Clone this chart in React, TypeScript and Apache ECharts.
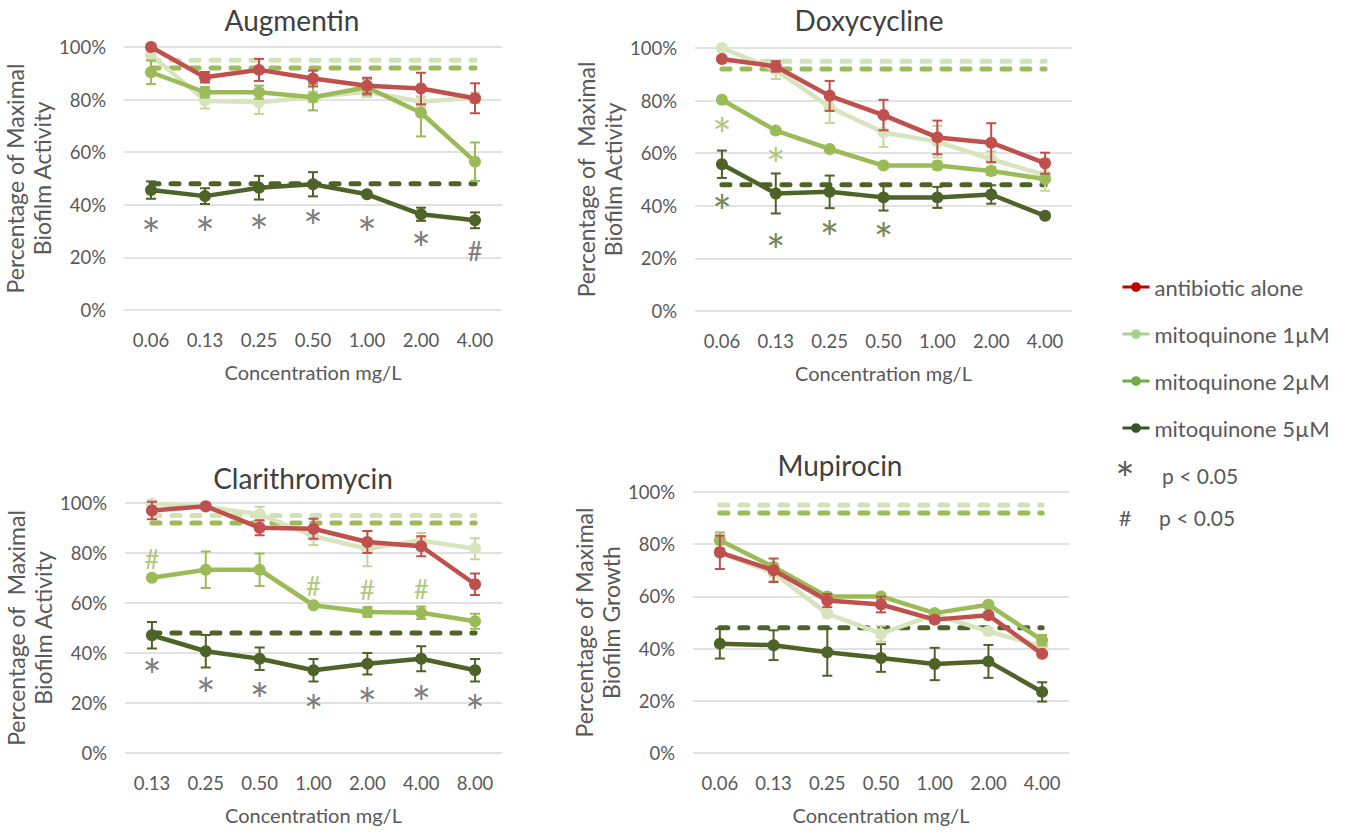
import React, { useEffect, useRef } from "react";
import * as echarts from "echarts";

const FONT = 'Lato, "Noto Sans", sans-serif';
const TXT = "#595959";

const seriesNames = ["antibiotic alone", "mitoquinone 1µM", "mitoquinone 2µM", "mitoquinone 5µM"];
const lineColors = ["#C0504D", "#D7E4BD", "#9BBB59", "#4F6228"];
const errColors = ["#C0504D", "#C4D79B", "#9BBB59", "#4F6228"];
const legendColors = ["#C00000", "#A9D18E", "#70AD47", "#375623"];
const refLevels = [95, 92, 48];
const refColors = ["#D3E2B6", "#9BBB59", "#4F6228"];

// ---------- Augmentin ----------
const augCats = ["0.06", "0.13", "0.25", "0.50", "1.00", "2.00", "4.00"];
const augAlone = [100, 88.5, 91.3, 88, 85.3, 84.2, 80.5];
const augAloneErr = [1, 2, 4.2, 3, 3, 6, 5.7];
const augM1 = [97, 79.6, 79, 81, 83, 79.2, 80.7];
const augM1Err = [2, 3, 4.5, 2, 2, 2, 2];
const augM2 = [90.4, 82.8, 82.8, 80.9, 84.7, 75, 56.4];
const augM2Err = [4.5, 2, 2.5, 5, 3, 9, 7.3];
const augM5 = [45.6, 43.3, 46.5, 47.8, 44, 36.4, 34.1];
const augM5Err = [3.3, 3, 4.5, 4.6, 1, 2.5, 3];
const augNoteCat = [0, 1, 2, 3, 4, 5, 6];
const augNoteY = [32.7, 33.2, 34, 36, 33.2, 27.6, 22.6];
const augNoteText = ["*", "*", "*", "*", "*", "*", "#"];
const augNoteTone = ["gray", "gray", "gray", "gray", "gray", "gray", "gray"];

// ---------- Doxycycline ----------
const doxCats = ["0.06", "0.13", "0.25", "0.50", "1.00", "2.00", "4.00"];
const doxAlone = [95.8, 93, 81.8, 74.5, 66, 64, 56.2];
const doxAloneErr = [1, 2, 5.7, 5.8, 6.4, 7.4, 4];
const doxM1 = [100, 91.7, 77.5, 67.9, 64.4, 57.7, 51.7];
const doxM1Err = [1, 3.5, 6, 5.5, 6, 3, 6];
const doxM2 = [80.3, 68.6, 61.6, 55.3, 55.3, 53.2, 50.2];
const doxM2Err = [1, 1, 1, 1, 1.5, 1.5, 1];
const doxM5 = [55.8, 44.7, 45.3, 43.2, 43.2, 44.3, 36.2];
const doxM5Err = [5.2, 7.6, 6.2, 5, 4, 3.5, 1];
const doxNoteCat = [0, 1, 0, 1, 2, 3];
const doxNoteY = [71.4, 60, 42.2, 27.3, 32, 31.3];
const doxNoteText = ["*", "*", "*", "*", "*", "*"];
const doxNoteTone = ["mid", "mid", "dark", "dark", "dark", "dark"];

// ---------- Clarithromycin ----------
const claCats = ["0.13", "0.25", "0.50", "1.00", "2.00", "4.00", "8.00"];
const claAlone = [97, 98.7, 90.1, 89.7, 84.4, 82.7, 67.5];
const claAloneErr = [3.5, 1, 3, 4, 4.4, 4, 4.3];
const claM1 = [99.7, 98.4, 95.5, 86.7, 81.7, 85, 81.7];
const claM1Err = [1, 1, 3, 3.5, 7, 3, 4.2];
const claM2 = [70.1, 73.3, 73.3, 59.1, 56.4, 56.1, 52.7];
const claM2Err = [1, 7.3, 6.5, 1, 2, 2.5, 3];
const claM5 = [47.1, 40.7, 37.7, 33.1, 35.7, 37.7, 33.1];
const claM5Err = [5.3, 6.5, 4.5, 4.5, 4.3, 5, 4.5];
const claNoteCat = [0, 3, 4, 5, 0, 1, 2, 3, 4, 5, 6];
const claNoteY = [77.7, 66.8, 65.1, 65.7, 35.5, 27.7, 25.7, 21, 23.7, 24.8, 21];
const claNoteText = ["#", "#", "#", "#", "*", "*", "*", "*", "*", "*", "*"];
const claNoteTone = ["mid", "mid", "mid", "mid", "gray", "gray", "gray", "gray", "gray", "gray", "gray"];

// ---------- Mupirocin ----------
const mupCats = ["0.06", "0.13", "0.25", "0.50", "1.00", "2.00", "4.00"];
const mupAlone = [76.9, 70, 58.4, 56.9, 51.1, 52.8, 38];
const mupAloneErr = [6.4, 4.5, 2.5, 3, 1, 1, 1];
const mupM1 = [76.6, 69, 53.4, 45.7, 53, 46.6, 40.9];
const mupM1Err = [1, 3, 1, 3, 1, 1, 1];
const mupM2 = [81.5, 71.3, 60, 60, 53.6, 56.8, 43.2];
const mupM2Err = [3, 1, 1, 1, 1, 1, 2];
const mupM5 = [41.9, 41.3, 38.6, 36.4, 34.1, 35.1, 23.4];
const mupM5Err = [5.7, 5.7, 9, 5.3, 6.2, 6.3, 3.7];

const toneColor: Record<string, string> = { gray: "#595959", mid: "#9BBB59", dark: "#4F6228" };

const panels = [
  {
    title: "Augmentin", yName: "Percentage of Maximal\nBiofilm Activity", cats: augCats,
    vals: [augAlone, augM1, augM2, augM5], errs: [augAloneErr, augM1Err, augM2Err, augM5Err],
    notes: { cat: augNoteCat, y: augNoteY, text: augNoteText, tone: augNoteTone },
    grid: { left: 124, top: 47, width: 378, height: 263 }, titlePos: [287, 1],
  },
  {
    title: "Doxycycline", yName: "Percentage of  Maximal\nBiofilm Activity", cats: doxCats,
    vals: [doxAlone, doxM1, doxM2, doxM5], errs: [doxAloneErr, doxM1Err, doxM2Err, doxM5Err],
    notes: { cat: doxNoteCat, y: doxNoteY, text: doxNoteText, tone: doxNoteTone },
    grid: { left: 695, top: 48, width: 377, height: 263 }, titlePos: [864, 1],
  },
  {
    title: "Clarithromycin", yName: "Percentage of  Maximal\nBiofilm Activity", cats: claCats,
    vals: [claAlone, claM1, claM2, claM5], errs: [claAloneErr, claM1Err, claM2Err, claM5Err],
    notes: { cat: claNoteCat, y: claNoteY, text: claNoteText, tone: claNoteTone },
    grid: { left: 125, top: 503, width: 377, height: 250 }, titlePos: [298, 459],
  },
  {
    title: "Mupirocin", yName: "Percentage of Maximal\nBiofilm Growth", cats: mupCats,
    vals: [mupAlone, mupM1, mupM2, mupM5], errs: [mupAloneErr, mupM1Err, mupM2Err, mupM5Err],
    notes: null as any,
    grid: { left: 693, top: 492, width: 376, height: 261 }, titlePos: [835, 446],
  },
];

function buildOption() {
  const grid: any[] = [];
  const xAxis: any[] = [];
  const yAxis: any[] = [];
  const title: any[] = [];
  const series: any[] = [];

  panels.forEach((p, gi) => {
    grid.push({ ...p.grid, containLabel: false });
    title.push({
      text: p.title, left: p.titlePos[0], top: p.titlePos[1], textAlign: "center",
      textStyle: { fontFamily: FONT, fontSize: 28, fontWeight: "normal", color: "#404040" },
    });
    xAxis.push({
      type: "category", gridIndex: gi, data: p.cats, boundaryGap: true,
      axisLine: { show: false }, axisTick: { show: false },
      axisLabel: { color: TXT, fontFamily: FONT, fontSize: 18.5, margin: 20 },
      name: "Concentration mg/L", nameLocation: "middle", nameGap: 52,
      nameTextStyle: { color: TXT, fontFamily: FONT, fontSize: 20 },
    });
    yAxis.push({
      type: "value", gridIndex: gi, min: 0, max: 100, interval: 20,
      axisLine: { show: false }, axisTick: { show: false },
      axisLabel: { color: TXT, fontFamily: FONT, fontSize: 18.5, margin: 18, formatter: "{value}%" },
      splitLine: { lineStyle: { color: "#D9D9D9", width: 1.5 } },
      name: p.yName, nameLocation: "middle", nameRotate: 90, nameGap: 63,
      nameTextStyle: { color: TXT, fontFamily: FONT, fontSize: 23, lineHeight: 27 },
    });

    // reference dashed lines
    refLevels.forEach((lv, ri) => {
      series.push({
        type: "line", name: "ref" + ri, xAxisIndex: gi, yAxisIndex: gi,
        data: p.cats.map(() => lv), symbol: "none", silent: true, z: 1,
        lineStyle: { color: refColors[ri], width: 5, type: [8, 12], cap: "round" },
      });
    });

    // data series, drawn so that red is on top
    const order = [1, 2, 3, 0];
    order.forEach((si, k) => {
      series.push({
        type: "line", name: seriesNames[si], xAxisIndex: gi, yAxisIndex: gi,
        data: p.vals[si], symbol: "circle", symbolSize: 12, z: 3 + k,
        lineStyle: { color: lineColors[si], width: 4.5 },
        itemStyle: { color: lineColors[si] },
      });
      series.push({
        type: "custom", name: seriesNames[si], xAxisIndex: gi, yAxisIndex: gi, z: 3 + k, silent: true,
        data: p.vals[si].map((v, i) => [i, v - p.errs[si][i], v + p.errs[si][i]]),
        encode: { x: 0, y: [1, 2] },
        renderItem: (params: any, api: any) => {
          const idx = api.value(0);
          const a = api.coord([idx, api.value(2)]);
          const b = api.coord([idx, api.value(1)]);
          const w = 5;
          const st = { stroke: errColors[si], lineWidth: 2 };
          return {
            type: "group",
            children: [
              { type: "line", shape: { x1: a[0], y1: a[1], x2: b[0], y2: b[1] }, style: st },
              { type: "line", shape: { x1: a[0] - w, y1: a[1], x2: a[0] + w, y2: a[1] }, style: st },
              { type: "line", shape: { x1: b[0] - w, y1: b[1], x2: b[0] + w, y2: b[1] }, style: st },
            ],
          };
        },
      });
    });

    if (p.notes) {
      const n = p.notes;
      series.push({
        type: "scatter", name: "notes" + gi, xAxisIndex: gi, yAxisIndex: gi, silent: true, z: 10,
        symbolSize: 1, itemStyle: { color: "rgba(0,0,0,0)" },
        data: n.cat.map((c: number, i: number) => ({
          value: [c, n.y[i]],
          label: {
            show: true, position: "inside", formatter: n.text[i],
            color: toneColor[n.tone[i]], fontFamily: FONT,
            fontSize: n.text[i] === "*" ? 46 : 26,
            offset: n.text[i] === "*" ? [0, 11] : [0, 0],
          },
        })),
      });
    }
  });

  return {
    animation: false,
    backgroundColor: "#ffffff",
    textStyle: { fontFamily: FONT },
    title,
    grid,
    xAxis,
    yAxis,
    legend: {
      orient: "vertical", left: 1121, top: 275, padding: 0, itemGap: 23,
      itemWidth: 27, itemHeight: 12,
      textStyle: { color: TXT, fontFamily: FONT, fontSize: 22, lineHeight: 24 },
      data: seriesNames.map((nm, i) => ({
        name: nm,
        itemStyle: { color: legendColors[i] },
        lineStyle: { color: legendColors[i], width: 3 },
      })),
      selectedMode: false,
    },
    graphic: [
      { type: "text", x: 1125, y: 478, style: { text: "*", fill: TXT, font: `46px ${FONT}`, align: "center", verticalAlign: "middle" } },
      { type: "text", x: 1162, y: 475, style: { text: "p < 0.05", fill: TXT, font: `21px ${FONT}`, verticalAlign: "middle" } },
      { type: "text", x: 1125, y: 517, style: { text: "#", fill: TXT, font: `22px ${FONT}`, align: "center", verticalAlign: "middle" } },
      { type: "text", x: 1159, y: 517, style: { text: "p < 0.05", fill: TXT, font: `21px ${FONT}`, verticalAlign: "middle" } },
    ],
    series,
  };
}

export default function App() {
  const ref = useRef<HTMLDivElement>(null);
  useEffect(() => {
    if (!ref.current) return;
    const chart = echarts.init(ref.current, null, { renderer: "svg" });
    chart.setOption(buildOption() as any);
    return () => chart.dispose();
  }, []);
  return (
    <div
      ref={ref}
      style={{ position: "fixed", left: 0, top: 0, width: 1351, height: 834, background: "#fff" }}
    />
  );
}
